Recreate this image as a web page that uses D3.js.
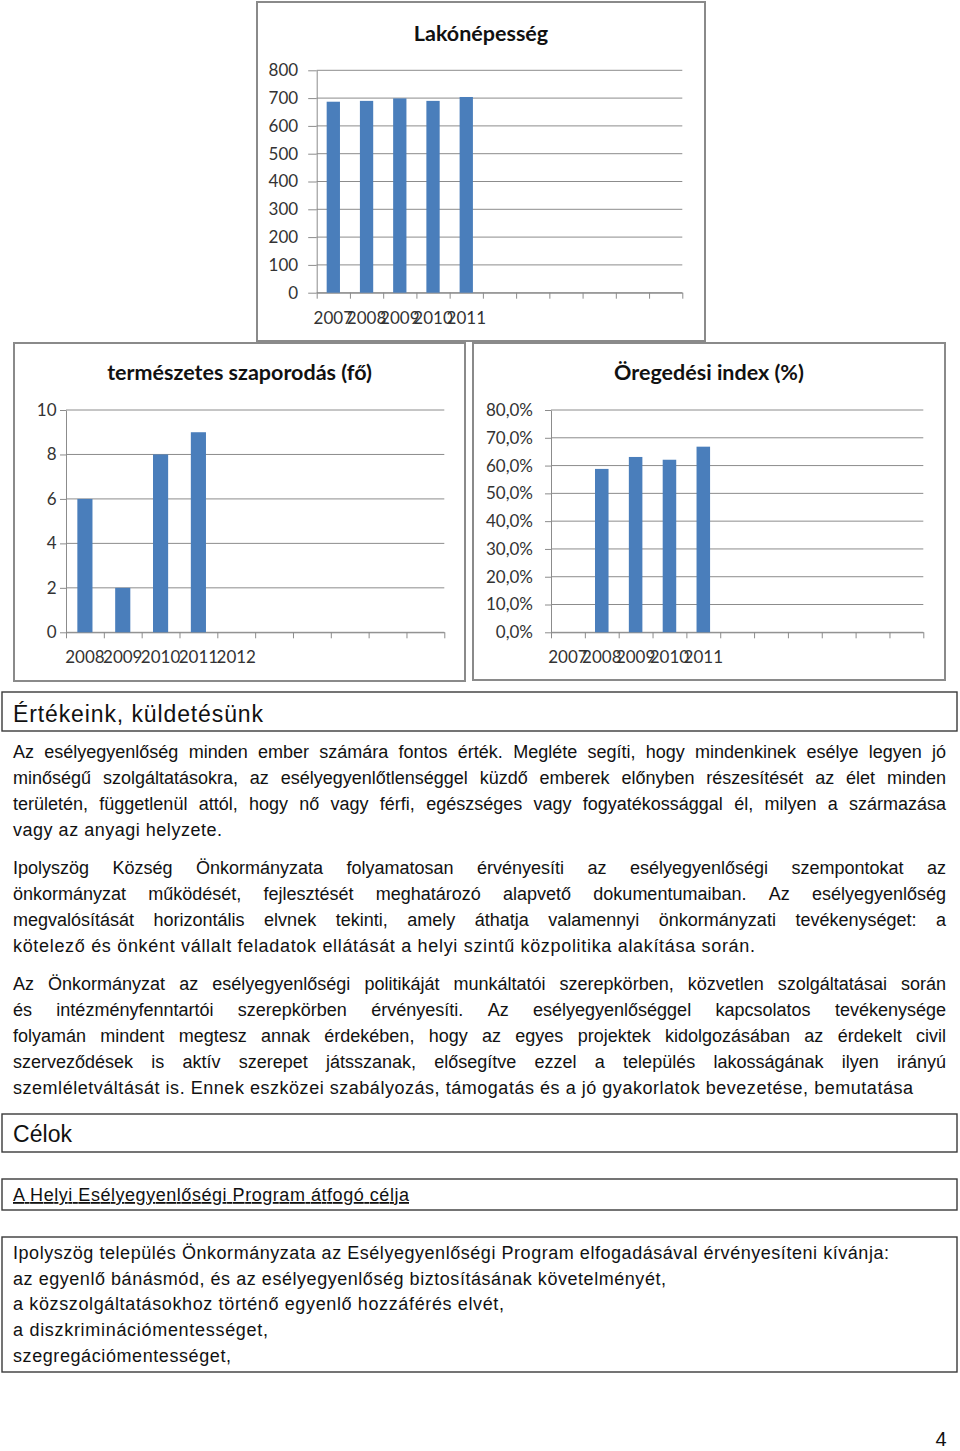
<!DOCTYPE html>
<html>
<head>
<meta charset="utf-8">
<script src="https://cdn.jsdelivr.net/npm/d3@7"></script>
<style>
  html, body { margin: 0; padding: 0; background: #fff; }
  svg { display: block; }
</style>
</head>
<body>
<script>
// ---------- DATA ----------
const popTitle = "Lakónépesség";
const popYears = ["2007", "2008", "2009", "2010", "2011"];
const popValues = [687, 690, 699, 690, 704];
const popTicks = [0, 100, 200, 300, 400, 500, 600, 700, 800];
const popSlots = 11;

const growthTitle = "természetes szaporodás (fő)";
const growthYears = ["2008", "2009", "2010", "2011", "2012"];
const growthValues = [6, 2, 8, 9, null];
const growthTicks = [0, 2, 4, 6, 8, 10];
const growthSlots = 10;

const agingTitle = "Öregedési index (%)";
const agingYears = ["2007", "2008", "2009", "2010", "2011"];
const agingValues = [null, 58.8, 63.1, 62.1, 66.8];
const agingTicks = [0, 10, 20, 30, 40, 50, 60, 70, 80];
const agingSlots = 11;

// ---------- TEXT ----------
const heading1 = "Értékeink, küldetésünk";
const para1 = [
  "Az esélyegyenlőség minden ember számára fontos érték. Megléte segíti, hogy mindenkinek esélye legyen jó",
  "minőségű szolgáltatásokra, az esélyegyenlőtlenséggel küzdő emberek előnyben részesítését az élet minden",
  "területén, függetlenül attól, hogy nő vagy férfi, egészséges vagy fogyatékossággal él, milyen a származása",
  "vagy az anyagi helyzete."
];
const para2 = [
  "Ipolyszög Község Önkormányzata folyamatosan érvényesíti az esélyegyenlőségi szempontokat az",
  "önkormányzat működését, fejlesztését meghatározó alapvető dokumentumaiban. Az esélyegyenlőség",
  "megvalósítását horizontális elvnek tekinti, amely áthatja valamennyi önkormányzati tevékenységet: a",
  "kötelező és önként vállalt feladatok ellátását a helyi szintű közpolitika alakítása során."
];
const para3 = [
  "Az Önkormányzat az esélyegyenlőségi politikáját munkáltatói szerepkörben, közvetlen szolgáltatásai során",
  "és intézményfenntartói szerepkörben érvényesíti. Az esélyegyenlőséggel kapcsolatos tevékenysége",
  "folyamán mindent megtesz annak érdekében, hogy az egyes projektek kidolgozásában az érdekelt civil",
  "szerveződések is aktív szerepet játsszanak, elősegítve ezzel a település lakosságának ilyen irányú",
  "szemléletváltását is. Ennek eszközei szabályozás, támogatás és a jó gyakorlatok bevezetése, bemutatása"
];
const heading2 = "Célok";
const heading3 = "A Helyi Esélyegyenlőségi Program átfogó célja";
const list1 = [
  "Ipolyszög település Önkormányzata az Esélyegyenlőségi Program elfogadásával érvényesíteni kívánja:",
  "az egyenlő bánásmód, és az esélyegyenlőség biztosításának követelményét,",
  "a közszolgáltatásokhoz történő egyenlő hozzáférés elvét,",
  "a diszkriminációmentességet,",
  "szegregációmentességet,"
];
const pageNumber = "4";

// ---------- LAYOUT ----------
const W = 960, H = 1451;
const svg = d3.select("body").append("svg").attr("width", W).attr("height", H);
svg.append("rect").attr("width", W).attr("height", H).attr("fill", "#fff");

const CHART_FONT = "Lato, 'Open Sans', sans-serif";
const BODY_FONT = "'Liberation Sans', Arial, sans-serif";
const BAR = "#4a7ebb";
const GRID = "#8c8c8c";

function drawChart(c) {
  const g = svg.append("g");
  g.append("rect")
    .attr("x", c.fx).attr("y", c.fy).attr("width", c.fw).attr("height", c.fh)
    .attr("fill", "#fff").attr("stroke", "#8a8a8a").attr("stroke-width", 2);
  g.append("text")
    .attr("x", c.fx + c.fw / 2).attr("y", c.titleY)
    .attr("text-anchor", "middle")
    .attr("font-family", CHART_FONT).attr("font-weight", 700)
    .attr("font-size", 21.5).attr("fill", "#111")
    .text(c.title);

  const y = d3.scaleLinear().domain([0, c.max]).range([c.y0, c.y1]);
  const x = d3.scaleBand().domain(d3.range(c.slots)).range([c.x0, c.x1])
    .paddingInner(0.6).paddingOuter(0.3);
  const edge = d3.scaleLinear().domain([0, c.slots]).range([c.x0, c.x1]);

  // gridlines
  g.append("g").selectAll("line").data(c.ticks).join("line")
    .attr("x1", c.x0).attr("x2", c.x1)
    .attr("y1", d => y(d)).attr("y2", d => y(d))
    .attr("stroke", GRID).attr("stroke-width", 1);

  // y axis
  const ya = g.append("g").attr("transform", `translate(${c.x0},0)`)
    .call(d3.axisLeft(y).tickValues(c.ticks).tickSize(c.tickLen).tickSizeOuter(0)
      .tickPadding(c.labelGap).tickFormat(c.fmt));
  ya.selectAll("path, line").attr("stroke", GRID);
  ya.selectAll("text").attr("font-family", CHART_FONT).attr("font-size", 17).attr("fill", "#333");

  // x axis (edge ticks)
  const xa = g.append("g").attr("transform", `translate(0,${c.y0})`)
    .call(d3.axisBottom(edge).tickValues(d3.range(c.slots + 1)).tickSize(6).tickSizeOuter(0).tickFormat(""));
  xa.selectAll("path, line").attr("stroke", GRID);

  // x labels
  const xl = g.append("g").attr("transform", `translate(0,${c.y0})`)
    .call(d3.axisBottom(x).tickSize(0).tickPadding(19).tickFormat(i => c.cats[i] || ""));
  xl.select("path").remove();
  xl.selectAll("text").attr("font-family", CHART_FONT).attr("font-size", 17).attr("fill", "#333");

  // bars
  const data = c.values.map((v, i) => ({ i, v })).filter(d => d.v != null);
  g.append("g").selectAll("rect").data(data).join("rect")
    .attr("x", d => x(d.i)).attr("width", x.bandwidth())
    .attr("y", d => y(d.v)).attr("height", d => y(0) - y(d.v))
    .attr("fill", BAR);
}

drawChart({
  fx: 257, fy: 2, fw: 448, fh: 339, title: popTitle, titleY: 41,
  x0: 316.7, x1: 682.3, y0: 292.7, y1: 70.3, max: 800,
  ticks: popTicks, fmt: d => d, tickLen: 8.5, labelGap: 10,
  cats: popYears, values: popValues, slots: popSlots
});
drawChart({
  fx: 14, fy: 343, fw: 451, fh: 338, title: growthTitle, titleY: 380,
  x0: 66, x1: 444.3, y0: 632.3, y1: 410, max: 10,
  ticks: growthTicks, fmt: d => d, tickLen: 6, labelGap: 3.5,
  cats: growthYears, values: growthValues, slots: growthSlots
});
drawChart({
  fx: 473, fy: 343, fw: 472, fh: 337, title: agingTitle, titleY: 380,
  x0: 551, x1: 923.3, y0: 632.3, y1: 410, max: 80,
  ticks: agingTicks, fmt: d => d.toFixed(1).replace(".", ",") + "%", tickLen: 6, labelGap: 12,
  cats: agingYears, values: agingValues, slots: agingSlots
});

// ---------- TEXT BLOCKS ----------
function box(x, y, w, h) {
  svg.append("rect").attr("x", x).attr("y", y).attr("width", w).attr("height", h)
    .attr("fill", "none").attr("stroke", "#3a3a3a").attr("stroke-width", 1.4);
}
function textLine(str, x, y, size, targetW, opts = {}) {
  const t = svg.append("text").attr("x", x).attr("y", y)
    .attr("font-family", BODY_FONT).attr("font-size", size).attr("fill", "#111")
    .text(str);
  if (targetW) t.attr("textLength", targetW).attr("lengthAdjust", "spacing");
  if (opts.underline) t.attr("text-decoration", "underline");
  return t;
}
function justifyLine(str, x0, x1, y, size) {
  const words = str.split(" ");
  const g = svg.append("g");
  const nodes = words.map(w => g.append("text").attr("y", y)
    .attr("font-family", BODY_FONT).attr("font-size", size).attr("fill", "#111").text(w));
  const widths = nodes.map(n => n.node().getComputedTextLength());
  const total = d3.sum(widths);
  const gap = (x1 - x0 - total) / (words.length - 1);
  let cx = x0;
  nodes.forEach((n, i) => { n.attr("x", cx); cx += widths[i] + gap; });
}
function paragraph(lines, startY, lastEnd) {
  lines.forEach((l, i) => {
    const yy = startY + i * 26;
    if (i < lines.length - 1) justifyLine(l, 13, 946, yy, 18);
    else textLine(l, 13, yy, 18, lastEnd - 13);
  });
}

box(2, 692, 955, 39);
textLine(heading1, 13, 722, 23, 250);
paragraph(para1, 758, 222);
paragraph(para2, 874, 755);
paragraph(para3, 990, 913);

box(2, 1114, 955, 38);
textLine(heading2, 13, 1142, 23, 59);

box(2, 1179, 955, 31);
textLine(heading3, 13, 1201, 18, 396, { underline: true });

box(2, 1237, 955, 135);
const listEnds = [889, 666, 504, 268, 231];
list1.forEach((l, i) => textLine(l, 13, 1259 + i * 25.7, 18, listEnds[i] - 13));

svg.append("text").attr("x", 941).attr("y", 1446).attr("text-anchor", "middle")
  .attr("font-family", BODY_FONT).attr("font-size", 20).attr("fill", "#111").text(pageNumber);
</script>
</body>
</html>
